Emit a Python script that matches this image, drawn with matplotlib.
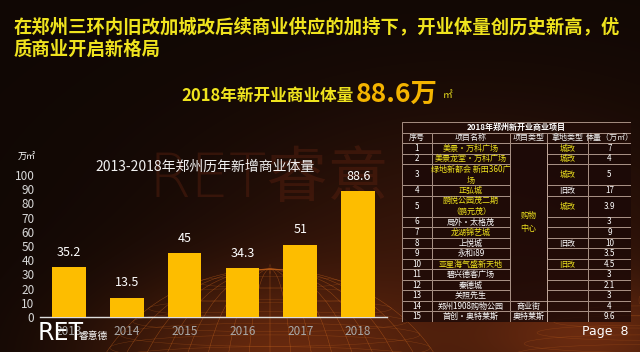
import numpy as np
import matplotlib
matplotlib.use("Agg")
import matplotlib.pyplot as plt
from matplotlib.patches import Rectangle, Ellipse

plt.rcParams['font.family'] = ['Noto Sans CJK SC', 'DejaVu Sans']

# ---------------- data ----------------
years = ['2013', '2014', '2015', '2016', '2017', '2018']
volumes = [35.2, 13.5, 45, 34.3, 51, 88.6]

title_lines = ['在郑州三环内旧改加城改后续商业供应的加持下，开业体量创历史新高，优',
               '质商业开启新格局']
chart_title = '2013-2018年郑州历年新增商业体量'
unit_label = '万㎡'

table_title = '2018年郑州新开业商业项目'
table_header = ['序号', '项目名称', '项目类型', '拿地类型', '体量（万㎡）']
proj_no = [str(i) for i in range(1, 16)]
proj_names = ['美景·万科广场', '美景龙堂·万科广场', '绿地新都会 新田360广\n场', '正弘城',
              '鹏悦公园茂二期\n（鹏元茂）', '局外·太格茂', '龙湖锦艺城', '上悦城', '永和i89',
              '亚星海气盛新天地', '碧兴德客广场', '秦德城', '关照先生', '郑州1908购物公园',
              '首创·奥特莱斯']
proj_types = [('购物\n中心', 0, 13), ('商业街', 13, 14), ('奥特莱斯', 14, 15)]
land_types = ['城改', '城改', '城改', '旧改', '城改', '', '', '旧改', '', '旧改', '', '', '', '', '']
proj_volumes = ['7', '4', '5', '17', '3.9', '3', '9', '10', '3.5', '4.5', '3', '2.1', '3', '4', '9.6']
name_yellow = [True, True, True, True, True, False, True, False, False, True,
               False, False, False, False, False]
land_yellow = [True, True, True, False, True, False, False, False, False, True,
               False, False, False, False, False]

# ---------------- figure ----------------
W, H = 640, 352
fig = plt.figure(figsize=(W / 100, H / 100), dpi=100)

def fx(x):
    return x / W

def fy(y):
    return 1 - y / H

# background
bg = fig.add_axes([0, 0, 1, 1], zorder=0)
bg.set_xlim(0, W)
bg.set_ylim(H, 0)
bg.axis('off')
yy, xx = np.mgrid[0:H, 0:W]
base = np.array([0.065, 0.03, 0.018])
glow1 = np.exp(-(((xx - 470) / 260) ** 2 + ((yy - 260) / 150) ** 2))
glow2 = np.exp(-(((xx - 270) / 170) ** 2 + ((yy - 360) / 80) ** 2))
glow3 = np.exp(-(((xx - 600) / 120) ** 2 + ((yy - 340) / 60) ** 2))
img = np.zeros((H, W, 3))
img[:] = base
img += glow1[..., None] * np.array([0.15, 0.055, 0.02])
img += glow2[..., None] * np.array([0.28, 0.11, 0.03])
img += glow3[..., None] * np.array([0.25, 0.10, 0.03])
img = np.clip(img, 0, 1)
bg.imshow(img, extent=[0, W, H, 0], aspect='auto', zorder=0)

# wireframe dome (decoration)
cx, cy, R = 270, 440, 190
for k in range(1, 14):
    h = R * k / 13
    bg.add_patch(Ellipse((cx, cy - h * 0.9), 2 * np.sqrt(max(R**2 - h**2, 1)), 40 * (1 - k / 14) + 6,
                         fill=False, ec='#d06a20', lw=0.35, alpha=0.35, zorder=1))
for k in range(-8, 9):
    bg.add_patch(Ellipse((cx, cy), 2 * R * abs(k) / 8 + 1, 2 * R * 0.9,
                         fill=False, ec='#d06a20', lw=0.35, alpha=0.3, zorder=1))
cx2, cy2, R2 = 640, 420, 150
for k in range(1, 12):
    h = R2 * k / 11
    bg.add_patch(Ellipse((cx2, cy2 - h * 0.8), 2 * np.sqrt(max(R2**2 - h**2, 1)), 30 * (1 - k / 12) + 5,
                         fill=False, ec='#d06a20', lw=0.35, alpha=0.3, zorder=1))

# watermark
bg.text(148, 180, 'RET睿意', fontsize=44, color='#5e2210', alpha=0.42, fontweight='light',
        va='center', ha='left', zorder=2, fontfamily=['DejaVu Sans', 'Noto Sans CJK SC'])

# titles
yellow = '#efe31e'
for i, line in enumerate(title_lines):
    fig.text(fx(14), fy(27 + 22 * i), line, fontsize=13.2, fontweight='bold',
             color=yellow, ha='left', va='center')
fig.text(fx(354), fy(101), '2018年新开业商业体量', fontsize=12, fontweight='bold',
         color=yellow, ha='right', va='baseline')
fig.text(fx(356), fy(102), '88.6万', fontsize=19, fontweight='bold',
         color='#f4b400', ha='left', va='baseline')
fig.text(fx(443), fy(98), '㎡', fontsize=7, color=yellow, ha='left', va='baseline')

# ---------------- bar chart ----------------
ax = fig.add_axes([fx(40), fy(317), fx(387) - fx(40), fy(175) - fy(317)], zorder=3)
ax.patch.set_alpha(0)
x = np.arange(len(years))
bars = ax.bar(x, volumes, width=0.58, color='#fdbd00', zorder=3)
ax.set_xlim(-0.5, len(years) - 0.5)
ax.set_ylim(0, 100)
ax.set_yticks(np.arange(0, 101, 10))
ax.set_xticks(x)
ax.set_xticklabels(years)
for s in ['top', 'right', 'left']:
    ax.spines[s].set_visible(False)
ax.spines['bottom'].set_color('#dddddd')
ax.spines['bottom'].set_linewidth(1.0)
ax.tick_params(axis='y', length=0, colors='#d8d8d8', labelsize=8.5, pad=4)
ax.tick_params(axis='x', length=0, colors='#a8a8a8', labelsize=8.5, pad=6)
for xi, v in zip(x, volumes):
    ax.annotate(f'{v:g}', (xi, v), xytext=(0, 6), textcoords='offset points',
                ha='center', va='bottom', color='white', fontsize=9)
fig.text(fx(27), fy(157), unit_label, fontsize=6.5, color='white', ha='center', va='center')
fig.text(fx(205), fy(167), chart_title, fontsize=10, color='#f0f0f0', ha='center', va='center')

# ---------------- table ----------------
col_w = [30, 78, 37, 41, 43]
row_units = [1, 1, 2, 1, 2, 1, 1, 1, 1, 1, 1, 1, 1, 1, 1]
total_units = 2 + sum(row_units)
tx0, ty0, tx1, ty1 = 402, 122, 631, 322
tab = fig.add_axes([fx(tx0), fy(ty1), fx(tx1) - fx(tx0), fy(ty0) - fy(ty1)], zorder=4)
tab.set_xlim(0, sum(col_w))
tab.set_ylim(total_units, 0)
tab.axis('off')
col_x = np.concatenate([[0], np.cumsum(col_w)])
ec = '#c9b0a2'
lw = 0.55
fs = 5.8

def cell(x0, x1, y0, y1, fc='#1b0907', alpha=0.8):
    tab.add_patch(Rectangle((x0, y0), x1 - x0, y1 - y0, fc=fc, ec='none', alpha=alpha))
    tab.add_patch(Rectangle((x0, y0), x1 - x0, y1 - y0, fc='none', ec=ec, lw=lw))

# title row
cell(col_x[0], col_x[-1], 0, 1, fc='#220c08', alpha=0.9)
tab.text(col_x[-1] / 2, 0.5, table_title, ha='center', va='center', color='white',
         fontsize=fs, fontweight='bold')
# header
for j, h in enumerate(table_header):
    cell(col_x[j], col_x[j + 1], 1, 2, fc='#220c08', alpha=0.9)
    tab.text((col_x[j] + col_x[j + 1]) / 2, 1.5, h, ha='center', va='center',
             color='#f2f2f2', fontsize=fs)
# body
row_y = np.concatenate([[2], 2 + np.cumsum(row_units)])
for i in range(len(proj_no)):
    y0, y1 = row_y[i], row_y[i + 1]
    ym = (y0 + y1) / 2
    for j in [0, 1, 3, 4]:
        cell(col_x[j], col_x[j + 1], y0, y1)
    tab.text((col_x[0] + col_x[1]) / 2, ym, proj_no[i], ha='center', va='center',
             color='white', fontsize=fs)
    tab.text((col_x[1] + col_x[2]) / 2, ym, proj_names[i], ha='center', va='center',
             color=yellow if name_yellow[i] else 'white', fontsize=fs, linespacing=1.3)
    tab.text((col_x[3] + col_x[4]) / 2, ym, land_types[i], ha='center', va='center',
             color=yellow if land_yellow[i] else 'white', fontsize=fs)
    tab.text((col_x[4] + col_x[5]) / 2, ym, proj_volumes[i], ha='center', va='center',
             color='white', fontsize=fs)
for label, r0, r1 in proj_types:
    y0, y1 = row_y[r0], row_y[r1]
    cell(col_x[2], col_x[3], y0, y1)
    tab.text((col_x[2] + col_x[3]) / 2, (y0 + y1) / 2, label, ha='center', va='center',
             color=yellow if r1 - r0 > 1 else 'white', fontsize=fs, linespacing=1.5)

# logo & page
fig.text(fx(38), fy(333), 'RET', fontsize=17, color='white', ha='left', va='center',
         fontfamily='DejaVu Sans')
fig.text(fx(79), fy(336), '睿意德', fontsize=7, color='white', ha='left', va='center')
fig.text(fx(628), fy(331), 'Page  8', fontsize=9, color='white', ha='right', va='center',
         fontfamily='DejaVu Sans')

fig.savefig('out.png', dpi=100, facecolor='#120806')
